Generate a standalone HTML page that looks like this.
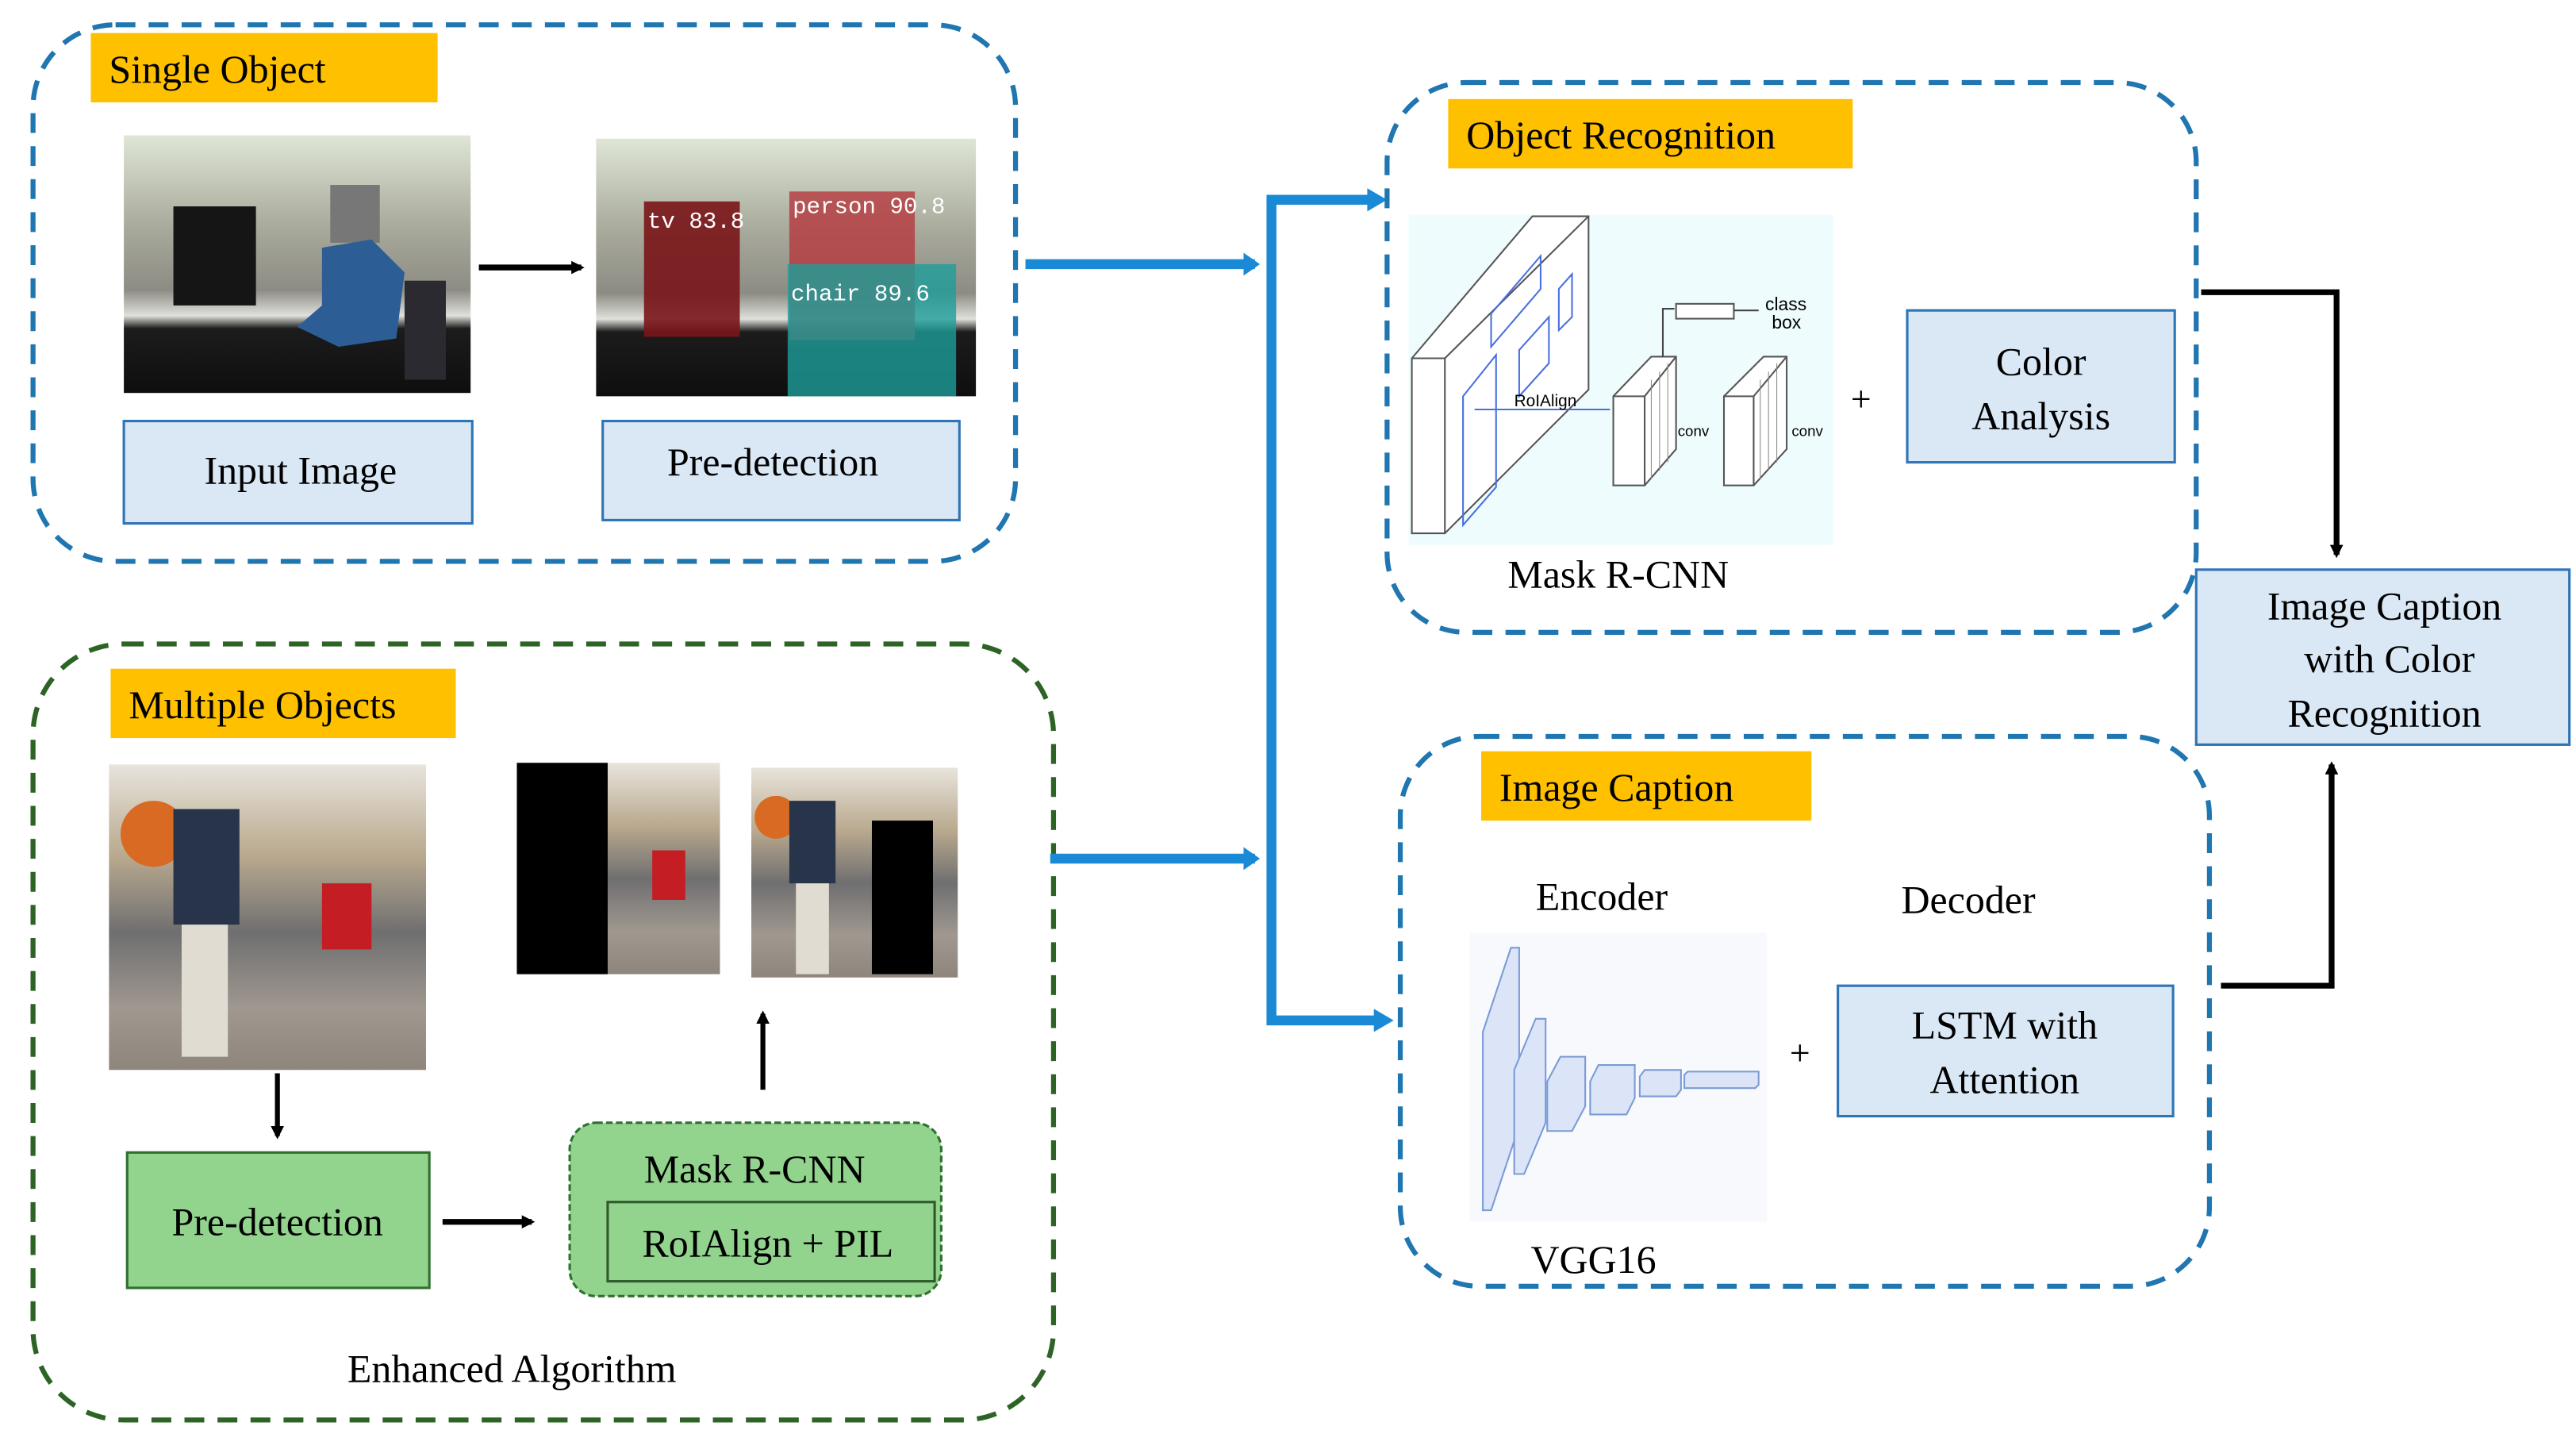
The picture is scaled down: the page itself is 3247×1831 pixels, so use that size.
<!DOCTYPE html>
<html><head><meta charset="utf-8"><style>
html,body{margin:0;padding:0;background:#fff;}
svg{display:block;}
svg text{font-family:"Liberation Serif","Times New Roman",serif;fill:#000;}
</style></head><body>
<svg width="3247" height="1831" viewBox="0 0 1560 880" preserveAspectRatio="none" xmlns="http://www.w3.org/2000/svg" font-family="Liberation Serif, serif">
<defs>
<marker id="ab" markerWidth="8" markerHeight="8" refX="6" refY="4" orient="auto" markerUnits="userSpaceOnUse"><path d="M0,0 L8,4 L0,8 z" fill="#000"/></marker>
<marker id="abl" markerWidth="10" markerHeight="14" refX="7" refY="7" orient="auto" markerUnits="userSpaceOnUse"><path d="M0,0 L10,7 L0,14 z" fill="#1b8ad6"/></marker>
<linearGradient id="lab" x1="0" y1="0" x2="0" y2="1">
<stop offset="0" stop-color="#dfe6d6"/><stop offset="0.35" stop-color="#a9ab9c"/><stop offset="0.6" stop-color="#8d8c84"/><stop offset="0.7" stop-color="#e0e0dc"/><stop offset="0.75" stop-color="#1c1c1c"/><stop offset="1" stop-color="#0e0e0e"/></linearGradient>
<linearGradient id="lab2" x1="0" y1="0" x2="0" y2="1">
<stop offset="0" stop-color="#e8e4dc"/><stop offset="0.3" stop-color="#b9a98e"/><stop offset="0.55" stop-color="#6f6f70"/><stop offset="0.8" stop-color="#a09890"/><stop offset="1" stop-color="#8e857c"/></linearGradient>
</defs>

<rect x="20" y="15" width="595" height="325" rx="50" fill="none" stroke="#1f76b0" stroke-width="3" stroke-dasharray="12 8"/>
<rect x="55" y="20" width="210" height="42" fill="#ffc000"/>
<text x="66" y="50" font-size="24">Single Object</text>
<rect x="75" y="82" width="210" height="156" fill="url(#lab)"/>
<rect x="105" y="125" width="50" height="60" fill="#151515"/>
<rect x="200" y="112" width="30" height="35" fill="#777"/>
<path d="M195,150 L225,145 L245,165 L240,205 L205,210 L180,198 L195,185 z" fill="#2c5d95"/>
<rect x="245" y="170" width="25" height="60" fill="#2a2a30"/>
<line x1="290" y1="162" x2="352" y2="162" stroke="#000" stroke-width="3.5" marker-end="url(#ab)"/>
<rect x="361" y="84" width="230" height="156" fill="url(#lab)"/>
<rect x="390" y="122" width="58" height="82" fill="#7a1518" opacity="0.9"/>
<rect x="478" y="116" width="76" height="90" fill="#b5383d" opacity="0.8"/>
<rect x="477" y="160" width="102" height="80" fill="#1e9e9a" opacity="0.8"/>
<text x="392" y="138" font-size="14" style="fill:#fff;font-family:'Liberation Mono',monospace">tv 83.8</text>
<text x="480" y="129" font-size="14" style="fill:#fff;font-family:'Liberation Mono',monospace">person 90.8</text>
<text x="479" y="182" font-size="14" style="fill:#fff;font-family:'Liberation Mono',monospace">chair 89.6</text>
<rect x="75" y="255" width="211" height="62" fill="#dae8f5" stroke="#2e75b6" stroke-width="1.5"/>
<text x="182" y="293" font-size="24" text-anchor="middle">Input Image</text>
<rect x="365" y="255" width="216" height="60" fill="#dae8f5" stroke="#2e75b6" stroke-width="1.5"/>
<text x="468" y="288" font-size="24" text-anchor="middle">Pre-detection</text>

<rect x="20" y="390" width="618" height="470" rx="55" fill="none" stroke="#2d6425" stroke-width="3" stroke-dasharray="12 8"/>
<rect x="67" y="405" width="209" height="42" fill="#ffc000"/>
<text x="78" y="435" font-size="24">Multiple Objects</text>
<rect x="66" y="463" width="192" height="185" fill="url(#lab2)"/>
<circle cx="93" cy="505" r="20" fill="#d86a24"/>
<rect x="105" y="490" width="40" height="70" fill="#27344a"/>
<rect x="110" y="560" width="28" height="80" fill="#e0dcd2"/>
<rect x="195" y="535" width="30" height="40" fill="#c41e24"/>
<rect x="313" y="462" width="123" height="128" fill="url(#lab2)"/>
<rect x="313" y="462" width="55" height="128" fill="#000"/>
<rect x="395" y="515" width="20" height="30" fill="#c41e24"/>
<rect x="455" y="465" width="125" height="127" fill="url(#lab2)"/>
<rect x="528" y="497" width="37" height="93" fill="#000"/>
<circle cx="470" cy="495" r="13" fill="#d86a24"/>
<rect x="478" y="485" width="28" height="50" fill="#27344a"/>
<rect x="482" y="535" width="20" height="55" fill="#e0dcd2"/>
<line x1="168" y1="650" x2="168" y2="688" stroke="#000" stroke-width="3" marker-end="url(#ab)"/>
<line x1="462" y1="660" x2="462" y2="614" stroke="#000" stroke-width="3" marker-end="url(#ab)"/>
<rect x="77" y="698" width="183" height="82" fill="#92d38d" stroke="#2f7030" stroke-width="1.5"/>
<text x="168" y="748" font-size="24" text-anchor="middle">Pre-detection</text>
<line x1="268" y1="740" x2="322" y2="740" stroke="#000" stroke-width="3.5" marker-end="url(#ab)"/>
<rect x="345" y="680" width="225" height="105" rx="16" fill="#92d38d" stroke="#2f7030" stroke-width="1.5" stroke-dasharray="4 2"/>
<text x="457" y="716" font-size="24" text-anchor="middle">Mask R-CNN</text>
<rect x="368" y="728" width="198" height="48" fill="none" stroke="#2f5a2a" stroke-width="1.5"/>
<text x="465" y="761" font-size="24" text-anchor="middle">RoIAlign + PIL</text>
<text x="310" y="837" font-size="24" text-anchor="middle">Enhanced Algorithm</text>

<line x1="621" y1="160" x2="760" y2="160" stroke="#1b8ad6" stroke-width="6" marker-end="url(#abl)"/>
<line x1="636" y1="520" x2="760" y2="520" stroke="#1b8ad6" stroke-width="6" marker-end="url(#abl)"/>
<polyline points="832,121 770,121 770,618 835,618" fill="none" stroke="#1b8ad6" stroke-width="6"/>
<path d="M828,114 L840,121 L828,128 z" fill="#1b8ad6"/>
<path d="M832,611 L844,618 L832,625 z" fill="#1b8ad6"/>

<rect x="840" y="50" width="490" height="333" rx="48" fill="none" stroke="#1f76b0" stroke-width="3" stroke-dasharray="12 8"/>
<rect x="877" y="60" width="245" height="42" fill="#ffc000"/>
<text x="888" y="90" font-size="24">Object Recognition</text>
<rect x="853" y="130" width="257" height="200" fill="#eefcfd"/>
<g fill="#fff" stroke="#555" stroke-width="1">
<path d="M855,217 L928,131 L962,131 L962,236 L875,323 L855,323 z"/>
<line x1="875" y1="217" x2="875" y2="323"/><line x1="855" y1="217" x2="875" y2="217"/><line x1="875" y1="217" x2="962" y2="131"/>
<path d="M977,240 L1000,216 L1015,216 L1015,272 L996,294 L977,294 z"/>
<line x1="996" y1="240" x2="996" y2="294"/><line x1="977" y1="240" x2="996" y2="240"/><line x1="996" y1="240" x2="1015" y2="216"/>
<path d="M1044,240 L1068,216 L1082,216 L1082,272 L1062,294 L1044,294 z"/>
<line x1="1062" y1="240" x2="1062" y2="294"/><line x1="1044" y1="240" x2="1062" y2="240"/><line x1="1062" y1="240" x2="1082" y2="216"/>
<rect x="1015" y="184" width="35" height="9"/>
</g>
<g fill="none" stroke="#4a6fe0" stroke-width="1">
<path d="M886,240 L906,215 L906,295 L886,318 z"/>
<path d="M903,190 L933,155 L933,175 L903,210 z"/>
<path d="M920,212 L938,192 L938,220 L920,240 z"/>
<path d="M944,175 L952,166 L952,192 L944,200 z"/>
<line x1="893" y1="248" x2="975" y2="248"/>
</g>
<g stroke="#888" stroke-width="0.5">
<line x1="1000" y1="230" x2="1000" y2="290"/><line x1="1005" y1="225" x2="1005" y2="285"/><line x1="1010" y1="220" x2="1010" y2="280"/>
<line x1="1066" y1="230" x2="1066" y2="290"/><line x1="1071" y1="225" x2="1071" y2="285"/><line x1="1076" y1="220" x2="1076" y2="280"/>
</g>
<polyline points="1007,216 1007,187 1014,187" fill="none" stroke="#444" stroke-width="1"/>
<line x1="1050" y1="188" x2="1065" y2="188" stroke="#444" stroke-width="1"/>
<text x="1069" y="188" font-size="11" style="font-family:'Liberation Sans',sans-serif">class</text>
<text x="1073" y="199" font-size="11" style="font-family:'Liberation Sans',sans-serif">box</text>
<text x="917" y="246" font-size="10" style="font-family:'Liberation Sans',sans-serif">RoIAlign</text>
<text x="1016" y="264" font-size="9" style="font-family:'Liberation Sans',sans-serif">conv</text>
<text x="1085" y="264" font-size="9" style="font-family:'Liberation Sans',sans-serif">conv</text>
<text x="980" y="356" font-size="24" text-anchor="middle">Mask R-CNN</text>
<text x="1127" y="249" font-size="22" text-anchor="middle">+</text>
<rect x="1155" y="188" width="162" height="92" fill="#dae8f5" stroke="#2e75b6" stroke-width="1.5"/>
<text x="1236" y="227" font-size="24" text-anchor="middle">Color</text>
<text x="1236" y="260" font-size="24" text-anchor="middle">Analysis</text>

<rect x="848" y="446" width="490" height="333" rx="48" fill="none" stroke="#1f76b0" stroke-width="3" stroke-dasharray="12 8"/>
<rect x="897" y="455" width="200" height="42" fill="#ffc000"/>
<text x="908" y="485" font-size="24">Image Caption</text>
<text x="970" y="551" font-size="24" text-anchor="middle">Encoder</text>
<text x="1192" y="553" font-size="24" text-anchor="middle">Decoder</text>
<rect x="890" y="565" width="180" height="175" fill="#f7f9fd"/>
<g fill="#dbe5f7" stroke="#7b9ad6" stroke-width="1">
<path d="M898,625 L915,574 L920,574 L920,682 L903,733 L898,733 z"/>
<path d="M917,648 L930,617 L936,617 L936,680 L923,711 L917,711 z"/>
<path d="M937,655 L945,640 L960,640 L960,670 L952,685 L937,685 z"/>
<path d="M963,655 L968,645 L990,645 L990,665 L985,675 L963,675 z"/>
<path d="M993,652 L996,648 L1018,648 L1018,660 L1015,664 L993,664 z"/>
<path d="M1020,651 L1022,649 L1065,649 L1065,657 L1063,659 L1020,659 z"/>
</g>
<text x="965" y="771" font-size="24" text-anchor="middle">VGG16</text>
<text x="1090" y="645" font-size="22" text-anchor="middle">+</text>
<rect x="1113" y="597" width="203" height="79" fill="#dae8f5" stroke="#2e75b6" stroke-width="1.5"/>
<text x="1214" y="629" font-size="24" text-anchor="middle">LSTM with</text>
<text x="1214" y="662" font-size="24" text-anchor="middle">Attention</text>

<rect x="1330" y="345" width="226" height="106" fill="#dae8f5" stroke="#2e75b6" stroke-width="1.5"/>
<text x="1444" y="375" font-size="24" text-anchor="middle">Image Caption</text>
<text x="1447" y="407" font-size="24" text-anchor="middle">with Color</text>
<text x="1444" y="440" font-size="24" text-anchor="middle">Recognition</text>

<polyline points="1333,177 1415,177 1415,336" fill="none" stroke="#000" stroke-width="3.5" marker-end="url(#ab)"/>
<polyline points="1345,597 1412,597 1412,463" fill="none" stroke="#000" stroke-width="3.5" marker-end="url(#ab)"/>
</svg>
</body></html>
